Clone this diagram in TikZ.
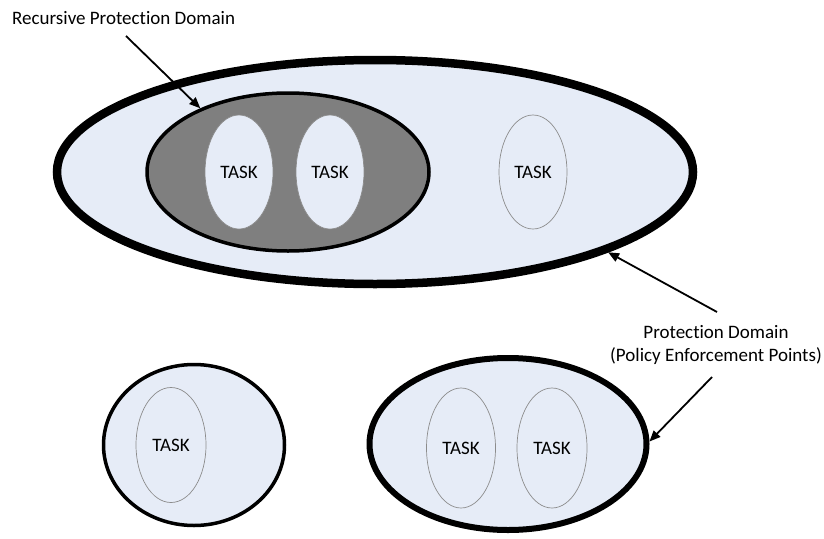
\documentclass[tikz,border=0pt]{standalone}
\usepackage{fontspec}
\setmainfont[Ligatures={NoCommon}]{Carlito}
\usetikzlibrary{shapes.geometric,arrows.meta}
\definecolor{domfill}{HTML}{E6ECF7}
\definecolor{recfill}{HTML}{7F7F7F}
\definecolor{taskline}{HTML}{8C8C8C}
\begin{document}
\begin{tikzpicture}[x=1pt,y=-1pt,
  pdomain/.style={ellipse,draw=black,fill=domfill,inner sep=0pt},
  recdomain/.style={ellipse,draw=black,fill=recfill,line width=3.5pt,inner sep=0pt},
  taskbox/.style={ellipse,draw=taskline,fill=domfill,line width=0.7pt,inner sep=0pt,
    minimum width=68pt,minimum height=114pt,font=\fontsize{19}{22}\selectfont},
  caption/.style={font=\fontsize{19}{23}\selectfont,align=center,inner sep=0pt},
  pointer/.style={line width=1.8pt,-{Triangle[length=11pt,width=9pt]}}]
\useasboundingbox (0,0) rectangle (824,538);
% outer protection domain with its nested recursive domain
\node[pdomain,line width=8.5pt,minimum width=636pt,minimum height=224pt] (big) at (375,172) {};
\node[recdomain,minimum width=282pt,minimum height=158pt] (rec) at (288,172) {};
\node[taskbox] (t1) at (239,172) {TASK};
\node[taskbox] (t2) at (330,172) {TASK};
\node[taskbox] (t3) at (533,172) {TASK};
% lower domains
\node[pdomain,line width=3.5pt,minimum width=181pt,minimum height=161pt] (pdl) at (194,445) {};
\node[taskbox,minimum width=70pt,minimum height=115pt] (t4) at (171,445) {TASK};
\node[pdomain,line width=6pt,minimum width=277pt,minimum height=172pt] (pdr) at (508,444) {};
\node[taskbox,minimum width=69pt,minimum height=120pt] (t5) at (461,448) {TASK};
\node[taskbox,minimum width=70pt,minimum height=120pt] (t6) at (552,448) {TASK};
% captions
\node[caption,anchor=west] (lrec) at (12,18) {Recursive Protection Domain};
\node[caption] (lpd) at (716,345) {Protection Domain\\(Policy Enforcement Points)};
% pointers
\coordinate (s1) at (126,36);
\coordinate (s2) at (717,312);
\coordinate (s3) at (712,377);
\draw[pointer] (s1) -- (rec.144);
\draw[pointer] (s2) -- (big.-19);
\draw[pointer] (s3) -- (pdr.1);
\end{tikzpicture}
\end{document}
